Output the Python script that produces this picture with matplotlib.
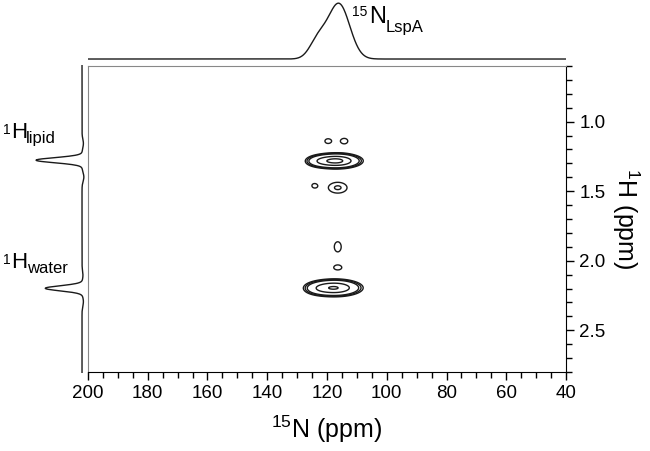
import matplotlib
matplotlib.use("Agg")
import matplotlib.pyplot as plt
from matplotlib.ticker import MultipleLocator, FormatStrFormatter
import numpy as np

plt.rcParams['font.family'] = ['Liberation Sans', 'DejaVu Sans']
plt.rcParams['mathtext.fontset'] = 'custom'
plt.rcParams['mathtext.rm'] = 'Liberation Sans'

# 2D cross peaks (15N ppm, 1H ppm, height, widths)
peak_n = [116.8, 123.0, 117.4, 123.5, 119.7, 114.2, 124.4, 116.4, 116.4, 116.4]
peak_h = [1.282, 1.285, 2.195, 2.20, 1.14, 1.14, 1.46, 1.475, 1.90, 2.05]
peak_amp = [0.66, 0.14, 0.61, 0.10, 0.118, 0.12, 0.095, 0.135, 0.118, 0.118]
peak_wn = [4.6, 3.0, 5.0, 3.0, 1.7, 1.9, 1.6, 4.0, 2.0, 2.0]
peak_wh = [0.030, 0.027, 0.034, 0.03, 0.028, 0.032, 0.030, 0.050, 0.063, 0.025]
levels = [0.10, 0.13, 0.17, 0.38, 0.60]

# 15N projection (top)
proj_n_pos = [116.0, 123.0]
proj_n_amp = [1.0, 0.33]
proj_n_w = [3.6, 2.8]

# 1H projection (left)
proj_h_pos = [1.28, 2.195, 1.16, 1.40, 2.10, 2.29]
proj_h_amp = [1.0, 0.80, -0.03, -0.04, -0.02, -0.03]
proj_h_w = [0.018, 0.018, 0.03, 0.03, 0.03, 0.03]

xlim = (200, 40)
ylim = (2.8, 0.6)

n = np.linspace(200, 40, 900)
h = np.linspace(0.6, 2.8, 700)
N, H = np.meshgrid(n, h)
Z = np.zeros_like(N)
for cn, ch, a, wn, wh in zip(peak_n, peak_h, peak_amp, peak_wn, peak_wh):
    Z += a * np.exp(-0.5 * ((N - cn) / wn) ** 2 - 0.5 * ((H - ch) / wh) ** 2)

fig = plt.figure(figsize=(6.5, 4.51), dpi=100)
W, Hh = 650.0, 451.0

# main contour axes
ax = fig.add_axes([88 / W, 1 - 372 / Hh, 478 / W, 306 / Hh])
ax.contour(N, H, Z, levels=levels, colors='#1a1a1a', linewidths=1.0)
ax.set_xlim(*xlim)
ax.set_ylim(*ylim)
ax.xaxis.set_major_locator(MultipleLocator(20))
ax.xaxis.set_minor_locator(MultipleLocator(5))
ax.yaxis.set_major_locator(MultipleLocator(0.5))
ax.yaxis.set_minor_locator(MultipleLocator(0.1))
ax.yaxis.tick_right()
ax.yaxis.set_label_position('right')
ax.tick_params(which='both', direction='out', labelsize=13.5)
ax.tick_params(which='major', length=6, width=1)
ax.tick_params(which='minor', length=4, width=1)
ax.yaxis.set_major_formatter(FormatStrFormatter('%.1f'))
for s in ['top', 'left']:
    ax.spines[s].set_color('#888888')
ax.set_xlabel(r'$\mathregular{^{15}}$N (ppm)', fontsize=18, labelpad=8)
ax.set_ylabel(r'$\mathregular{^{1}}$H (ppm)', fontsize=18, rotation=-90, labelpad=26)

# top projection
axt = fig.add_axes([88 / W, 1 - 66 / Hh, 478 / W, 66 / Hh])
proj_n = np.zeros_like(n)
for c, a, w in zip(proj_n_pos, proj_n_amp, proj_n_w):
    proj_n += a * np.exp(-0.5 * ((n - c) / w) ** 2)
axt.plot(n, proj_n, color='#1a1a1a', lw=1.0)
axt.set_xlim(*xlim)
axt.set_ylim(-0.127, 1.073)
axt.axis('off')

# left projection
axl = fig.add_axes([0, 1 - 373 / Hh, 88 / W, 308 / Hh])
proj_h = np.zeros_like(h)
for c, a, w in zip(proj_h_pos, proj_h_amp, proj_h_w):
    proj_h += a * np.exp(-0.5 * ((h - c) / w) ** 2)
axl.plot(proj_h, h, color='#1a1a1a', lw=1.0)
axl.set_xlim(1.783, -0.130)
axl.set_ylim(*ylim)
axl.axis('off')


def px(x, y):
    return x / W, 1 - y / Hh


# projection labels: superscript, nucleus, subscript
fig.text(*px(352, 5), '15', fontsize=10, va='top')
fig.text(*px(369, 23), 'N', fontsize=17, va='baseline')
fig.text(*px(386, 32), 'LspA', fontsize=12, va='baseline')

fig.text(*px(3, 123), '1', fontsize=10, va='top')
fig.text(*px(11, 138), 'H', fontsize=16, va='baseline')
fig.text(*px(26, 143), 'lipid', fontsize=12, va='baseline')

fig.text(*px(3, 253), '1', fontsize=10, va='top')
fig.text(*px(11, 268), 'H', fontsize=16, va='baseline')
fig.text(*px(27, 273), 'water', fontsize=12, va='baseline')

fig.savefig('out.png', dpi=100)
